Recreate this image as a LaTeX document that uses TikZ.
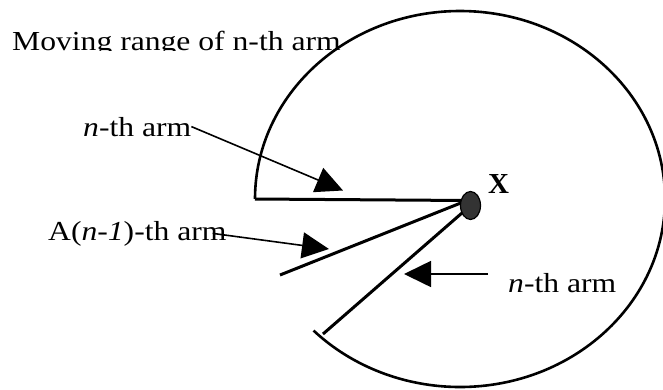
\documentclass[tikz,border=0pt]{standalone}
\usepackage{fontspec}
\setmainfont{Liberation Serif}
\usepackage{graphicx}
\usetikzlibrary{arrows.meta,shapes.geometric}
\definecolor{hubgray}{HTML}{333333}
\newcommand{\stretchtxt}[1]{\scalebox{1.15}[1]{#1}}
\tikzset{
  lbl/.style={inner sep=0pt, anchor=base west, font=\fontsize{27.5}{30}\selectfont},
  armline/.style={line width=3pt},
  rangeline/.style={line width=2.6pt},
  pointer/.style={line width=1.6pt, -{Triangle[length=27pt,width=26pt]}},
}
\begin{document}
\begin{tikzpicture}[x=1pt,y=-1pt]
\useasboundingbox (0,0) rectangle (663,389);
\begin{scope}
  \clip (0,0) rectangle (663,50.5);
  \node[lbl] (title) at (12,50) {\stretchtxt{Moving range of n-th arm}};
\end{scope}
% geometry
\coordinate (pL) at (255,199);
\coordinate (hub) at (467,200.5);
\coordinate (hubB) at (470,206);
\coordinate (pA) at (280,275);
\coordinate (pC) at (323,334);
% moving range
\draw[rangeline] (pL) arc[start angle=180,end angle=-135.6,x radius=205pt,y radius=188pt];
% arms
\draw[armline] (pL) -- (hub);
\draw[armline] (pA) -- (hub);
\draw[armline] (pC) -- (hubB);
\node[ellipse, draw, fill=hubgray, line width=1.2pt, minimum width=20pt, minimum height=28pt, inner sep=0pt] (dot) at (470.5,205.5) {};
\node[inner sep=0pt, anchor=base west, font=\fontsize{29}{32}\selectfont\bfseries] (X) at (488,193) {X};
% labels
\node[lbl] (l1) at (83,136) {\stretchtxt{\textit{n}-th arm}};
\node[lbl] (l2) at (48,240) {\stretchtxt{A(\textit{n}-\textit{1})-th arm}};
\node[lbl] (l3) at (508,292.7) {\stretchtxt{\textit{n}-th arm}};
% pointers
\coordinate (t1) at (343,190.5);
\coordinate (t2) at (329,249);
\coordinate (t3) at (404,274);
\coordinate (s3) at (488,274);
\draw[pointer] (l1.east) -- (t1);
\draw[pointer] ([xshift=-14pt]l2.east) -- (t2);
\draw[pointer] (s3) -- (t3);
\end{tikzpicture}
\end{document}
